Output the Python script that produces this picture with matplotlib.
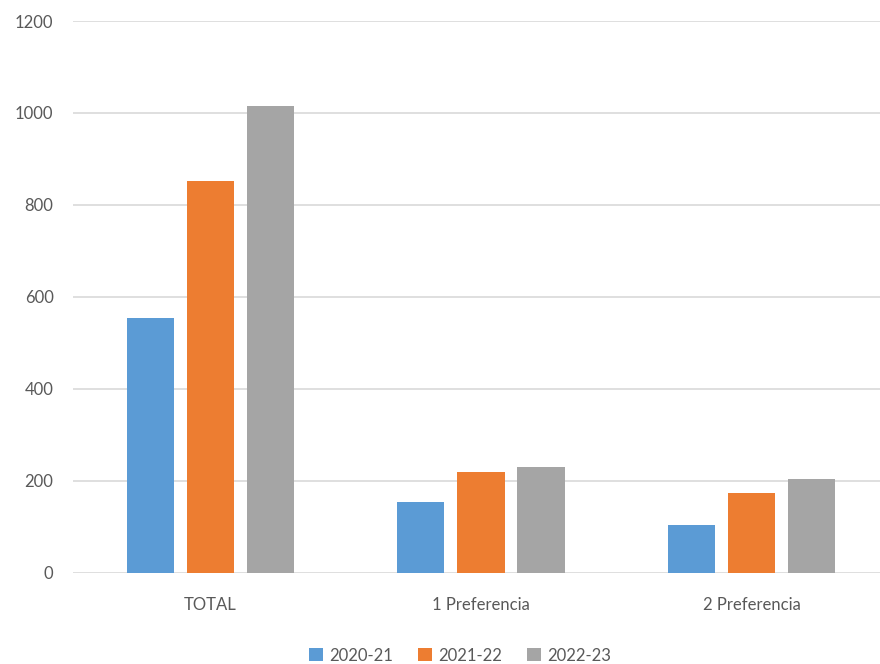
import matplotlib.pyplot as plt
import numpy as np

categories = ["TOTAL", "1 Preferencia", "2 Preferencia"]
series_names = ["2020-21", "2021-22", "2022-23"]
values_2020 = [553, 153, 103]
values_2021 = [852, 218, 174]
values_2022 = [1016, 230, 204]
colors = ["#5B9BD5", "#ED7D31", "#A5A5A5"]
yticks = [0, 200, 400, 600, 800, 1000, 1200]

plt.rcParams["font.family"] = ["Lato", "DejaVu Sans"]

fig = plt.figure(figsize=(8.8, 6.64), dpi=100)
ax = fig.add_axes([73 / 880, 91.5 / 664, 807 / 880, 551.5 / 664])

x = np.arange(len(categories))
width = 0.174
step = 0.222
for i, (vals, name) in enumerate(zip([values_2020, values_2021, values_2022], series_names)):
    ax.bar(x + (i - 1) * step, vals, width, color=colors[i], label=name, zorder=3)

ax.set_xlim(-0.508, 2.475)
ax.set_ylim(0, 1200)
ax.set_yticks(yticks)
ax.set_yticklabels([str(t) for t in yticks])
ax.set_xticks(x)
ax.set_xticklabels(categories)
ax.grid(axis="y", color="#D9D9D9", linewidth=1.2, zorder=0)
ax.tick_params(axis="both", length=0, labelsize=12, colors="#595959")
ax.tick_params(axis="y", pad=14)
ax.tick_params(axis="x", pad=18)
for s in ax.spines.values():
    s.set_visible(False)

fig.legend(loc="lower center", bbox_to_anchor=(0.523, -0.022), ncol=3, frameon=False,
           fontsize=12, labelcolor="#595959", handlelength=0.8, handleheight=0.8,
           handletextpad=0.4, columnspacing=1.5)

fig.savefig("out.png", dpi=100)
